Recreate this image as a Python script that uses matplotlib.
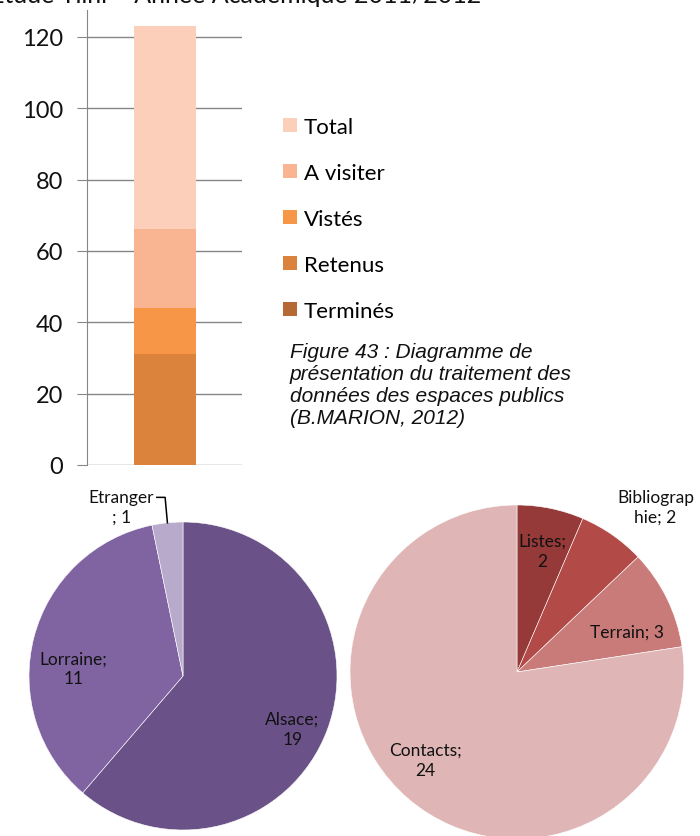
import numpy as np
import matplotlib.pyplot as plt

plt.rcParams["font.family"] = ["Lato", "DejaVu Sans"]

# stacked bar: one column, segment heights from bottom to top
bar_labels = ["Terminés", "Retenus", "Vistés", "A visiter", "Total"]
bar_values = [0, 31, 13, 22, 57]
bar_colors = ["#B56A33", "#DB823C", "#F79646", "#F9B591", "#FBCFB9"]
bar_ticks = [0, 20, 40, 60, 80, 100, 120]

# pie 1: origin of visitors
origin_labels = ["Alsace", "Lorraine", "Etranger"]
origin_values = [19, 11, 1]
origin_colors = ["#6A5288", "#8064A2", "#B8AACB"]

# pie 2: sources
source_labels = ["Listes", "Bibliographie", "Terrain", "Contacts"]
source_values = [2, 2, 3, 24]
source_colors = ["#953A38", "#B24A47", "#C97B7A", "#DFB5B5"]

W, H = 700, 837
fig = plt.figure(figsize=(W / 100, H / 100), dpi=100)


def rect(x0, y_top, w, h):
    """pixel box (top-left origin) -> figure fraction"""
    return [x0 / W, (H - y_top - h) / H, w / W, h / H]


def polar(angle, dist):
    a = np.deg2rad(angle)
    return dist * np.cos(a), dist * np.sin(a)


def mid_angle(w):
    return (w.theta1 + w.theta2) / 2


# header text, cut off at the top of the page
fig.text(481 / W, 1 - 3 / H, "Etude Tiini – Année Académique 2011/2012",
         ha="right", va="baseline", fontsize=18, color="#111111")

# ---- stacked bar ----
ax = fig.add_axes(rect(87, 11, 155, 455))
bottom = 0
bars = []
for lab, val, col in zip(bar_labels, bar_values, bar_colors):
    b = ax.bar(0.5, val, width=0.4, bottom=bottom, color=col, label=lab, zorder=3)
    bars.append(b)
    bottom += val
ax.set_xlim(0, 1)
ax.set_ylim(0, 127.5)
ax.set_yticks(bar_ticks)
ax.set_xticks([])
ax.yaxis.grid(True, color="#868686", linewidth=1, zorder=0)
for s in ["top", "right", "bottom"]:
    ax.spines[s].set_visible(False)
ax.spines["left"].set_color("#868686")
ax.tick_params(axis="y", length=7, color="#868686", labelsize=17,
               labelcolor="#111111", pad=10)

fig.legend(bars[::-1], bar_labels[::-1], loc="upper left",
           bbox_to_anchor=(272 / W, 1 - 107 / H), frameon=False,
           fontsize=16, handlelength=0.62, handleheight=0.62,
           handletextpad=0.3, labelspacing=1.17, borderpad=0)

fig.text(290 / W, 1 - 343 / H,
         "Figure 43 : Diagramme de\nprésentation du traitement des\n"
         "données des espaces publics\n(B.MARION, 2012)",
         ha="left", va="top", fontsize=15, style="italic",
         family="Liberation Sans", linespacing=1.2, color="#111111")

# ---- pie 1 ----
r1 = 154
ax1 = fig.add_axes(rect(183 - r1, 677 - r1, 2 * r1, 2 * r1))
w1, _ = ax1.pie(origin_values, colors=origin_colors, startangle=90,
                counterclock=False, radius=1,
                wedgeprops=dict(linewidth=0.4, edgecolor="#ffffff"))
ax1.set_xlim(-1, 1)
ax1.set_ylim(-1, 1)
ax1.axis("off")
# (angle offset, distance) for the in-slice labels
lab1 = {"Alsace": (-5.5, 0.79), "Lorraine": (10.5, 0.715)}
for w, name, v in zip(w1, origin_labels, origin_values):
    if name in lab1:
        da, d = lab1[name]
        x, y = polar(mid_angle(w) + da, d)
        ax1.text(x, y, f"{name};\n{v}", ha="center", va="center",
                 fontsize=12.5, color="#111111", linespacing=1.3)
    else:
        ex, ey = polar(mid_angle(w), 1.0)
        ax1.plot([-0.17, ex - 0.015, ex], [1.16, 1.16, ey], color="#000000",
                 lw=1.1, clip_on=False)
        ax1.text(-0.40, 1.10, f"{name}\n; {v}", ha="center", va="center",
                 fontsize=12.5, color="#111111", linespacing=1.3, clip_on=False)

# ---- pie 2 ----
r2 = 167
ax2 = fig.add_axes(rect(517 - r2, 673 - r2, 2 * r2, 2 * r2))
w2, _ = ax2.pie(source_values, colors=source_colors, startangle=90,
                counterclock=False, radius=1,
                wedgeprops=dict(linewidth=0.4, edgecolor="#ffffff"))
ax2.set_xlim(-1, 1)
ax2.set_ylim(-1, 1)
ax2.axis("off")
lab2 = {"Listes": (0, 0.74), "Terrain": (-6, 0.70), "Contacts": (-5.5, 0.76)}
for w, name, v in zip(w2, source_labels, source_values):
    if name == "Bibliographie":
        ax2.text(0.83, 0.99, "Bibliograp\nhie; " + str(v), ha="center",
                 va="center", fontsize=12.5, color="#111111", linespacing=1.3,
                 clip_on=False)
        continue
    da, d = lab2[name]
    x, y = polar(mid_angle(w) + da, d)
    txt = f"{name}; {v}" if name == "Terrain" else f"{name};\n{v}"
    ax2.text(x, y, txt, ha="center", va="center", fontsize=12.5,
             color="#111111", linespacing=1.3)

fig.savefig("out.png", dpi=100)
